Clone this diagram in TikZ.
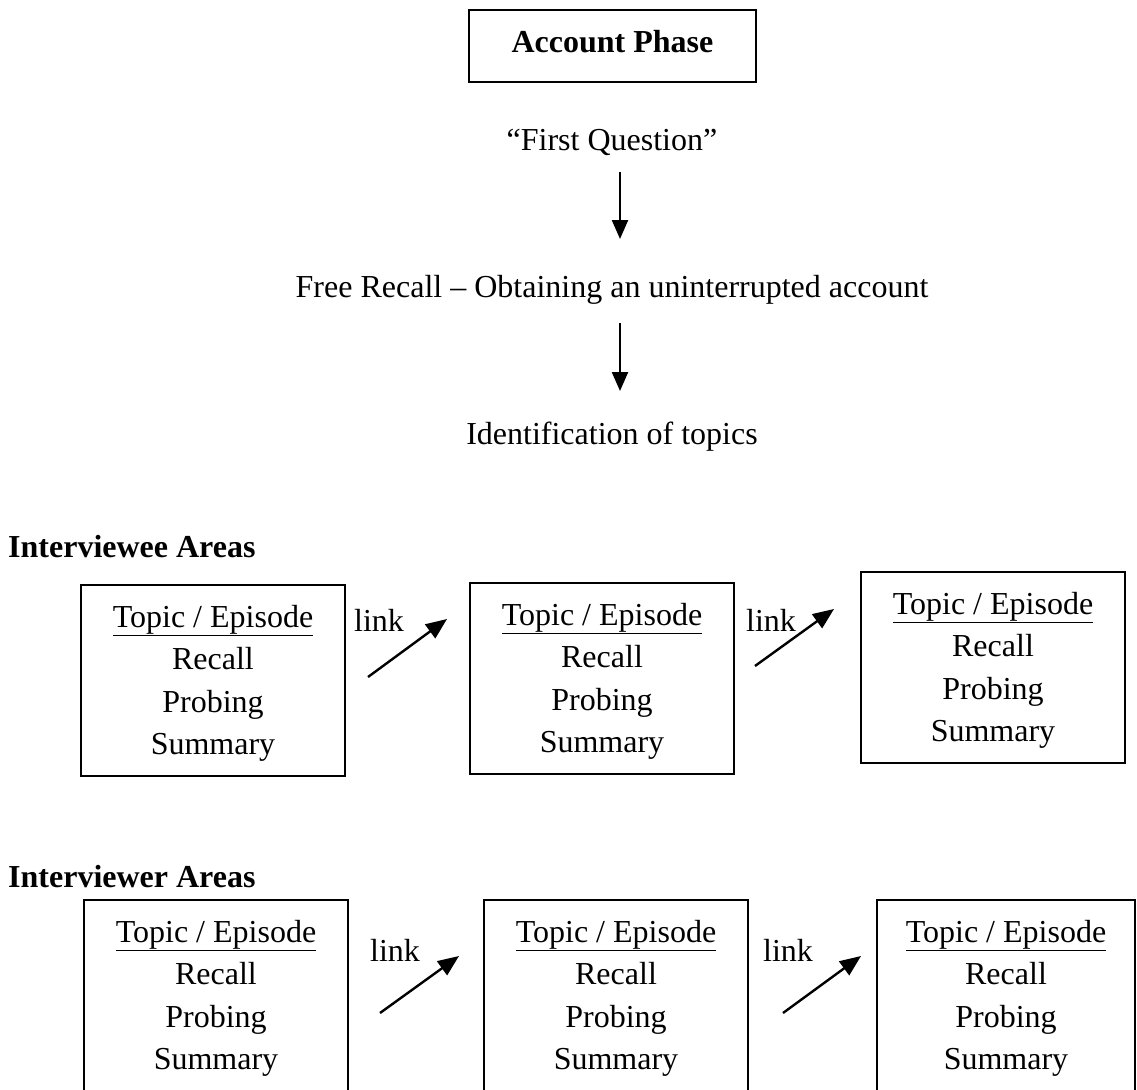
\documentclass[tikz,border=0pt]{standalone}
\usepackage{fontspec}
\setmainfont{Liberation Serif}
\usetikzlibrary{arrows.meta}
\tikzset{
  x=1pt, y=-1pt,
  txt/.style={font=\fontsize{32}{42.5}\selectfont, inner sep=0pt, align=center},
  hd/.style={font=\fontsize{32}{42.5}\selectfont\bfseries, inner sep=0pt},
  topicbox/.style={draw, line width=1.6pt, minimum width=264pt, minimum height=191pt, inner sep=0pt,
    font=\fontsize{32}{42.5}\selectfont, align=center},
  arr/.style={line width=2.4pt, -{Triangle[length=19pt,width=16pt]}},
  larr/.style={line width=2.4pt, -{Triangle[length=21pt,width=17pt]}},
}
\newcommand{\topictext}{\rule{0pt}{28pt}\underline{Topic / Episode}\\Recall\\Probing\\Summary}
\begin{document}
\begin{tikzpicture}
\useasboundingbox (0,0) rectangle (1137,1089);
\clip (0,0) rectangle (1137,1089);
% header
\node[draw, line width=1.6pt, minimum width=287pt, minimum height=72pt, hd, text depth=10pt] (ap) at (612.5,46) {Account Phase};
\node[txt] (fq) at (612,142) {“First Question”};
\node[txt] (fr) at (612,290) {Free Recall – Obtaining an uninterrupted account};
\node[txt] (it) at (612,437) {Identification of topics};
\coordinate (a1s) at (620,172);
\coordinate (a1e) at (620,239);
\coordinate (a2s) at (620,323);
\coordinate (a2e) at (620,391);
\draw[arr] (a1s) -- (a1e);
\draw[arr] (a2s) -- (a2e);
% interviewee
\node[hd, anchor=west] (hee) at (8,547) {Interviewee Areas};
\node[topicbox] (b1) at (213,680.5) {\topictext};
\node[topicbox] (b2) at (602,678.5) {\topictext};
\node[topicbox] (b3) at (993,667.5) {\topictext};
\node[txt] (l1) at (379,620) {link};
\node[txt] (l2) at (771,620) {link};
\coordinate (p1s) at (368,677);
\coordinate (p1e) at (447,619);
\coordinate (p2s) at (755,666);
\coordinate (p2e) at (834,609);
\draw[larr] (p1s) -- (p1e);
\draw[larr] (p2s) -- (p2e);
% interviewer
\node[hd, anchor=west] (her) at (8,877) {Interviewer Areas};
\node[topicbox] (c1) at (216,995.5) {\topictext};
\node[topicbox] (c2) at (616,995.5) {\topictext};
\node[topicbox, minimum width=258pt] (c3) at (1006,995.5) {\topictext};
\node[txt] (m1) at (395,950) {link};
\node[txt] (m2) at (788,950) {link};
\coordinate (q1s) at (380,1013);
\coordinate (q1e) at (459,956);
\coordinate (q2s) at (783,1013);
\coordinate (q2e) at (861,956);
\draw[larr] (q1s) -- (q1e);
\draw[larr] (q2s) -- (q2e);
\end{tikzpicture}
\end{document}
